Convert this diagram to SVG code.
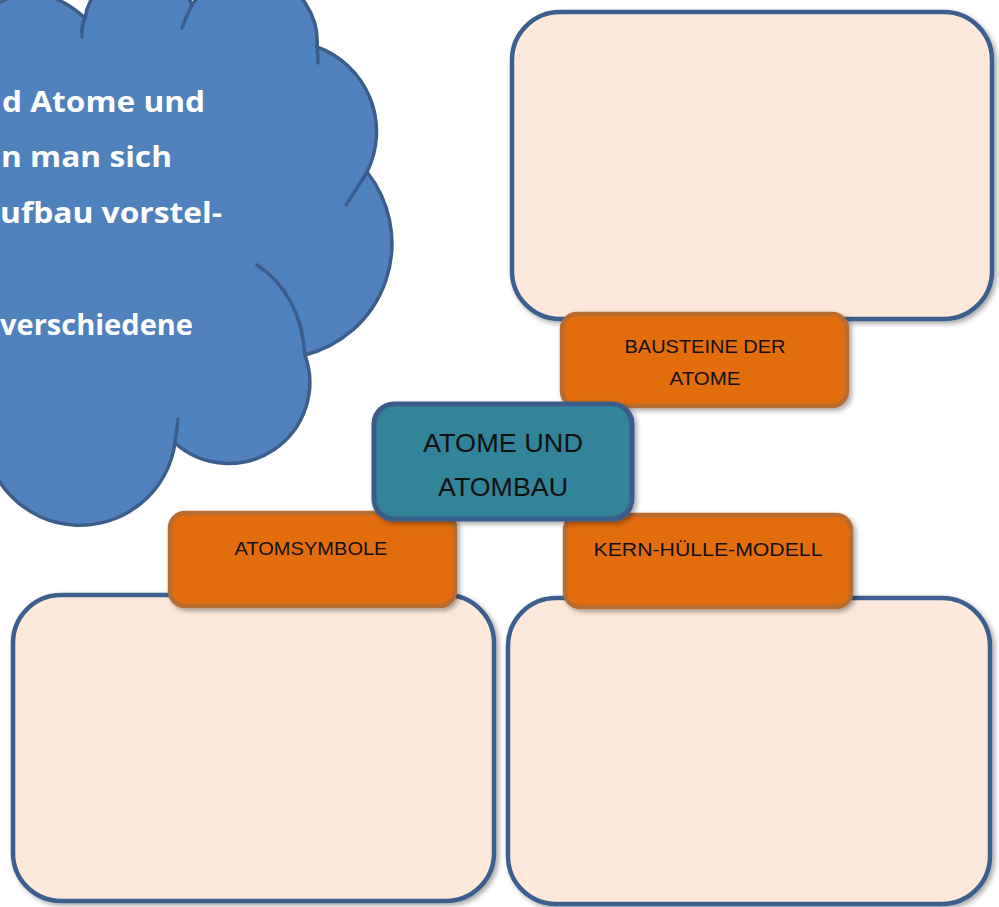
<svg xmlns="http://www.w3.org/2000/svg" width="999" height="907" viewBox="0 0 999 907">
<style>
.cream{fill:#fce9db;stroke:#3b5f8e;stroke-width:4.5}
.orange{fill:#e36c0a;stroke:#b76d30;stroke-width:4.5}
.teal{fill:#31849b;stroke:#3a5d8c;stroke-width:5}
.lbl{font-family:"Liberation Sans",Arial,sans-serif;font-size:19px;fill:#111;text-anchor:middle}
.big{font-size:25px}
.cloudtxt{font-family:"Open Sans","Noto Sans",sans-serif;font-weight:bold;font-size:28px;fill:#fff}
.inner{fill:none;stroke:#3a5d8c;stroke-width:3.5;stroke-linecap:round}
</style>
<defs>
<filter id="sh" x="-10%" y="-10%" width="125%" height="125%">
<feDropShadow dx="2.5" dy="2.5" stdDeviation="2.5" flood-color="#000" flood-opacity="0.35"/>
</filter>
</defs>
<rect width="999" height="907" fill="#fff"/>

<g id="cloud">
<path d="M -40,40 Q 20,-40 85,18 A 56 56 0 0 1 192,5 A 68 68 0 0 1 317,47 A 90 90 0 0 1 367,172 A 115 115 0 0 1 305,355 A 81 81 0 0 1 175,443 A 96 96 0 0 1 -16,430 L -60,430 L -60,40 Z" fill="#4f81bd" stroke="#3a5d8c" stroke-width="3.5" stroke-linejoin="round"/>
<path class="inner" d="M 85,18 Q 81,27 82,37"/>
<path class="inner" d="M 192,5 Q 186,16 182,28"/>
<path class="inner" d="M 317,47 Q 318,55 318,63"/>
<path class="inner" d="M 367,172 Q 356,190 346,205"/>
<path class="inner" d="M 257,265 C 285,283 303,315 305,357"/>
<path class="inner" d="M 175,443 Q 177,430 178,419"/>
<text class="cloudtxt" x="2" y="112" textLength="203" lengthAdjust="spacingAndGlyphs">d Atome und</text>
<text class="cloudtxt" x="1" y="167" textLength="171" lengthAdjust="spacingAndGlyphs">n man sich</text>
<text class="cloudtxt" x="0" y="223" textLength="222" lengthAdjust="spacingAndGlyphs">ufbau vorstel-</text>
<text class="cloudtxt" x="0" y="335" textLength="193" lengthAdjust="spacingAndGlyphs">verschiedene</text>
</g>

<g id="box-top" filter="url(#sh)">
<rect class="cream" x="512" y="12" width="480" height="307" rx="48"/>
</g>
<g id="box-bottom-left" filter="url(#sh)">
<rect class="cream" x="13" y="595" width="481" height="306" rx="48"/>
</g>
<g id="box-bottom-right" filter="url(#sh)">
<rect class="cream" x="508" y="598" width="482" height="306" rx="48"/>
</g>

<g id="bausteine">
<rect class="orange" x="562" y="314" width="285" height="92" rx="15" filter="url(#sh)"/>
<text class="lbl" x="705" y="353" textLength="161" lengthAdjust="spacingAndGlyphs">BAUSTEINE DER</text>
<text class="lbl" x="705" y="385" textLength="71" lengthAdjust="spacingAndGlyphs">ATOME</text>
</g>
<g id="atomsymbole">
<rect class="orange" x="170" y="513" width="285" height="93" rx="15" filter="url(#sh)"/>
<text class="lbl" x="311" y="555" textLength="153" lengthAdjust="spacingAndGlyphs">ATOMSYMBOLE</text>
</g>
<g id="kern-huelle-modell">
<rect class="orange" x="565" y="515" width="286" height="92" rx="15" filter="url(#sh)"/>
<text class="lbl" x="708" y="556" textLength="229" lengthAdjust="spacingAndGlyphs">KERN-HÜLLE-MODELL</text>
</g>
<g id="center">
<rect class="teal" x="374" y="404" width="258" height="115" rx="20" filter="url(#sh)"/>
<text class="lbl big" x="503" y="452" textLength="160" lengthAdjust="spacingAndGlyphs">ATOME UND</text>
<text class="lbl big" x="503" y="496" textLength="130" lengthAdjust="spacingAndGlyphs">ATOMBAU</text>
</g>
<g id="connectors"/>
</svg>
